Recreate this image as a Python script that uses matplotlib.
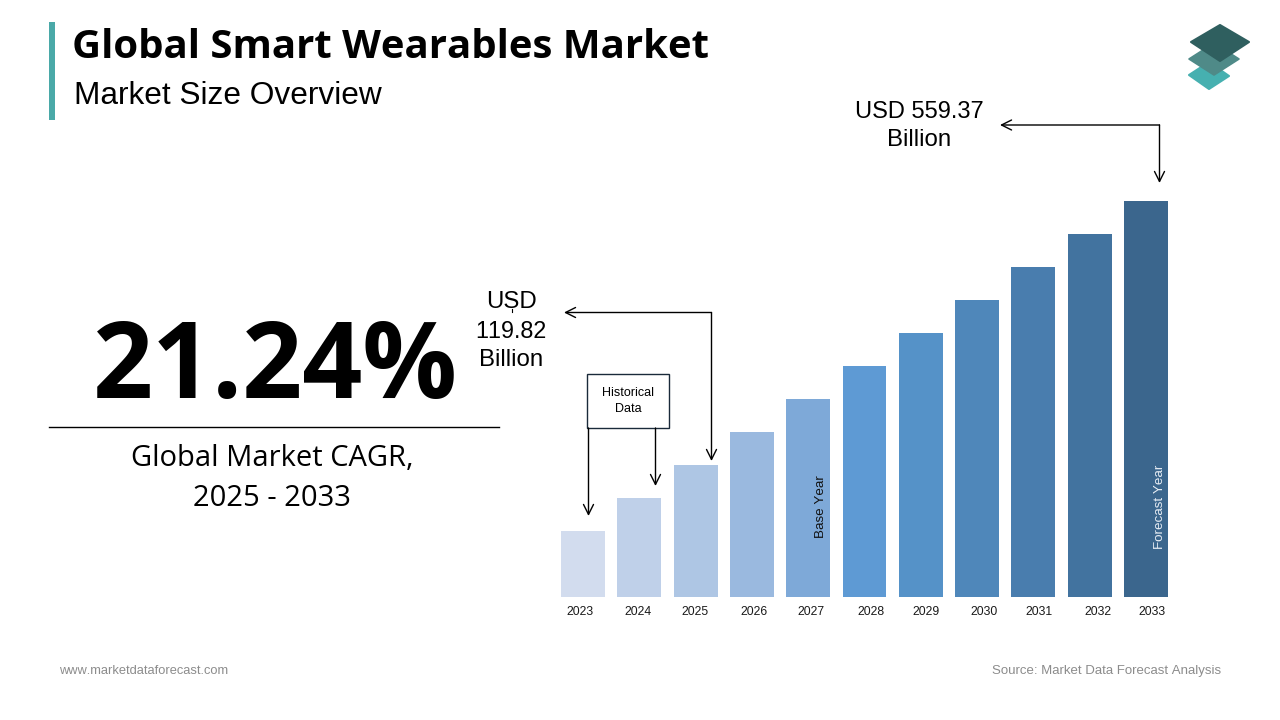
"""Global Smart Wearables Market - market size overview slide."""

import matplotlib
matplotlib.use("Agg")
import matplotlib.pyplot as plt
from matplotlib.patches import Polygon, Rectangle

WIDTH, HEIGHT = 1280, 720

years = [2023, 2024, 2025, 2026, 2027, 2028, 2029, 2030, 2031, 2032, 2033]
# bars are schematic in the source, heights read as steps of equal size
bar_heights = [2, 3, 4, 5, 6, 7, 8, 9, 10, 11, 12]
bar_colors = ["#d2dcee", "#bfd0e9", "#aec6e4", "#9ab9df", "#7ea9d8", "#5e9ad4",
              "#5592c8", "#4f87ba", "#497dae", "#42739f", "#3b668d"]
# year labels sit a little off the bar centres in the source (pixels)
label_offsets = [-3, -1, -1, 2, 3, 6, 5, 7, 6, 8, 6]

SANS = "Liberation Sans"
HEAD = "Open Sans"

# source text has almost no pair kerning ("119.82")
plt.rcParams["text.kerning_factor"] = 6

fig = plt.figure(figsize=(WIDTH / 100, HEIGHT / 100), dpi=100, facecolor="white")

# overlay in pixel coordinates for the slide furniture
page = fig.add_axes([0, 0, 1, 1])
page.set_xlim(0, WIDTH)
page.set_ylim(HEIGHT, 0)
page.axis("off")

# bar chart: x runs in bar index, 1 y unit = 33 px
x0, x1 = 561, 1168
y_top, y_base = 201, 597
ax = fig.add_axes([x0 / WIDTH, 1 - y_base / HEIGHT, (x1 - x0) / WIDTH, (y_base - y_top) / HEIGHT])
ax.patch.set_alpha(0)
ax.bar(range(len(years)), bar_heights, width=0.78, color=bar_colors, linewidth=0)
ax.set_xlim(-0.39, len(years) - 1 + 0.39)
ax.set_ylim(0, max(bar_heights))
ax.axis("off")

ax.set_zorder(1)
page.set_zorder(2)
page.patch.set_alpha(0)

px_per_bar = (x1 - x0) / (len(years) - 1 + 0.78)
for i, (year, off) in enumerate(zip(years, label_offsets)):
    cx = x0 + (0.39 + i) * px_per_bar + off
    page.text(cx, 612, str(year), ha="center", va="center", fontsize=8.8,
              family=SANS, color="#1a1a1a")

# header
page.add_patch(Rectangle((49, 22), 6, 98, color="#4aa9a8", lw=0))
page.text(72, 47, "Global Smart Wearables Market", fontsize=28.9, fontweight="bold",
          family=HEAD, ha="left", va="center", color="black")
page.text(74, 96, "Market Size Overview", fontsize=22.8, family=SANS,
          ha="left", va="center", color="black")

# logo, three stacked plates
page.add_patch(Polygon([(1209, 62), (1229, 76), (1209, 89), (1189, 75)], closed=True,
                       fc="#46b0b0", ec="#46b0b0", lw=1.5, joinstyle="round"))
page.add_patch(Polygon([(1214, 43), (1239, 59), (1214, 75), (1189, 59)], closed=True,
                       fc="#4f8a88", ec="#4f8a88", lw=1.2, joinstyle="round"))
page.add_patch(Polygon([(1220, 25), (1249, 42), (1220, 61), (1191, 42)], closed=True,
                       fc="#2f5f5f", ec="#2f5f5f", lw=1.5, joinstyle="round"))

# CAGR block
page.text(275, 370, "21.24%", fontsize=75.7, fontweight="bold", family=HEAD,
          ha="center", va="center", color="black")
page.plot([49, 499], [427, 427], color="black", lw=1)
page.text(272, 458, "Global Market CAGR,", fontsize=21, family=HEAD,
          ha="center", va="center", color="black")
page.text(272, 498, "2025 - 2033", fontsize=21, family=HEAD,
          ha="center", va="center", color="black")

# value callouts
page.text(919, 112, "USD 559.37", fontsize=17, family=SANS, ha="center", va="center")
page.text(919, 140, "Billion", fontsize=17.3, family=SANS, ha="center", va="center")
page.text(511, 302, "USD", fontsize=17.3, family=SANS, ha="center", va="center")
page.text(511, 331, "119.82", fontsize=16.8, family=SANS, ha="center", va="center")
page.text(511, 360, "Billion", fontsize=17.3, family=SANS, ha="center", va="center")
page.plot([511.5, 511.5], [309, 312], color="black", lw=0.8)

arrow = dict(arrowstyle="->", color="black", lw=1, mutation_scale=18, shrinkA=0, shrinkB=0)

page.annotate("", xy=(1000, 125), xytext=(1159.5, 125), arrowprops=arrow)
page.annotate("", xy=(1159.5, 183), xytext=(1159.5, 125), arrowprops=arrow)
page.annotate("", xy=(564, 312.5), xytext=(711.5, 312.5), arrowprops=arrow)
page.annotate("", xy=(711.5, 461), xytext=(711.5, 312.5), arrowprops=arrow)

# historical data box
page.add_patch(Rectangle((587, 373.5), 82, 54, fc="white", ec="#1a2a3a", lw=1))
page.text(628, 393, "Historical", fontsize=9, family=SANS, ha="center", va="center")
page.text(628, 409, "Data", fontsize=9, family=SANS, ha="center", va="center")
page.annotate("", xy=(588.5, 516), xytext=(588.5, 428), arrowprops=arrow)
page.annotate("", xy=(655.5, 486), xytext=(655.5, 428), arrowprops=arrow)

# rotated year tags on the bars
page.text(821, 507, "Base Year", fontsize=9.6, family=SANS, rotation=90,
          ha="center", va="center", color="#111111", zorder=5)
page.text(1160, 507, "Forecast Year", fontsize=9.6, family=SANS, rotation=90,
          ha="center", va="center", color="#e8eef5", zorder=5)

# footer
page.text(59, 671, "www.marketdataforecast.com", fontsize=9.3, family=SANS,
          ha="left", va="center", color="#8c8c8c")
page.text(1221, 671, "Source: Market Data Forecast Analysis", fontsize=9.55, family=SANS,
          ha="right", va="center", color="#8c8c8c")

fig.savefig("out.png", dpi=100)
